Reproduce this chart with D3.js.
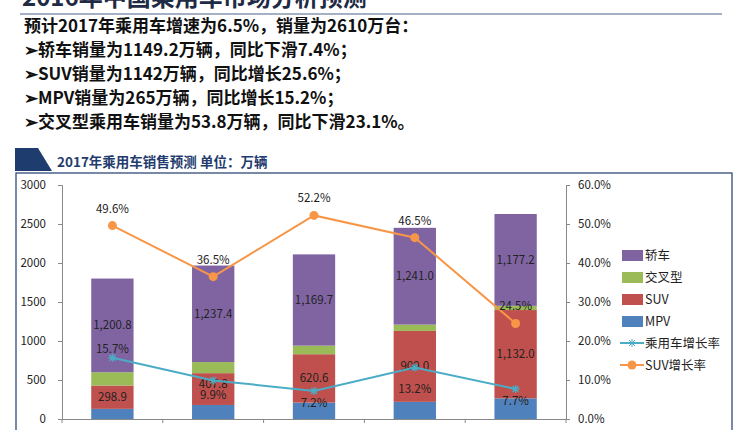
<!DOCTYPE html><html><head><meta charset="utf-8"><script src="https://cdn.jsdelivr.net/npm/d3@7"></script>
<style>body{margin:0;background:#fff}text{font-family:"Noto Sans CJK SC","Microsoft YaHei",sans-serif}</style></head><body><svg id="c" width="737" height="430"></svg>
<script>
const years=["2013","2014","2015","2016","2017E"];
const mpv=[130,180,210,220,265];
const suv=[298.9,407.8,620.6,909.0,1132.0];
const cross=[171,142,110,81,53.8];
const sedan=[1200.8,1237.4,1169.7,1241.0,1177.2];
const totalGrowth=[15.7,9.9,7.2,13.2,7.7];
const suvGrowth=[49.6,36.5,52.2,46.5,24.5];
const leftTicks=[0,500,1000,1500,2000,2500,3000];
const rightTicks=[0,10,20,30,40,50,60];
const headLines=["预计2017年乘用车增速为6.5%，销量为2610万台：","➢轿车销量为1149.2万辆，同比下滑7.4%；","➢SUV销量为1142万辆，同比增长25.6%；","➢MPV销量为265万辆，同比增长15.2%；","➢交叉型乘用车销量为53.8万辆，同比下滑23.1%。"];
const svg=d3.select("#c");
svg.append("text").attr("x",22).attr("y",6).attr("font-size",24).attr("font-weight","bold").attr("fill","#1f2a44").text("2016年中国乘用车市场分析预测");
svg.append("line").attr("x1",20).attr("x2",722).attr("y1",14).attr("y2",14).attr("stroke","#8796b0").attr("stroke-width",1.5);
headLines.forEach((t,i)=>svg.append("text").attr("x",24).attr("y",32+i*24).attr("font-size",17).attr("font-weight","bold").attr("fill","#111").text(t));
svg.append("path").attr("d","M15,148H40L55,171H15Z").attr("fill","#1f3c6e");
svg.append("path").attr("d","M38,148H46L60,171H52Z").attr("fill","#fff");
svg.append("text").attr("x",57).attr("y",167).attr("font-size",13.5).attr("font-weight","bold").attr("fill","#1f3c6e").text("2017年乘用车销售预测  单位：万辆");
svg.append("rect").attr("x",16).attr("y",173).attr("width",716).attr("height",270).attr("fill","none").attr("stroke","#1f3c6e").attr("stroke-width",1.2);
const x=d3.scaleBand().domain(years).range([62,566]).paddingInner(0.58).paddingOuter(0.29);
const y=d3.scaleLinear().domain([0,3000]).range([419,185]);
const y2=d3.scaleLinear().domain([0,60]).range([419,185]);
const la=svg.append("g").attr("transform","translate(62,0)").call(d3.axisLeft(y).tickValues(leftTicks).tickSize(4).tickPadding(12).tickFormat(d3.format("d")));
const ra=svg.append("g").attr("transform","translate(566,0)").call(d3.axisRight(y2).tickValues(rightTicks).tickSize(4).tickPadding(8).tickFormat(d=>d.toFixed(1)+"%"));
const ba=svg.append("g").attr("transform","translate(0,419)").call(d3.axisBottom(x).tickSize(0).tickFormat(""));
[la,ra,ba].forEach(g=>{g.selectAll("path,line").attr("stroke","#888");g.selectAll("text").attr("font-size",11.5).attr("fill","#222").attr("font-family","Liberation Sans, Arial");});
svg.append("g").attr("transform","translate(0,419)").selectAll("line").data(d3.range(6)).join("line").attr("x1",(d)=>62+d*100.8).attr("x2",(d)=>62+d*100.8).attr("y1",0).attr("y2",4).attr("stroke","#888");
const series=[{k:"MPV",v:mpv,c:"#4f81bd"},{k:"SUV",v:suv,c:"#c0504d"},{k:"交叉型",v:cross,c:"#9bbb59"},{k:"轿车",v:sedan,c:"#8064a2"}];
years.forEach((yr,i)=>{let base=0;series.forEach(s=>{const v=s.v[i];svg.append("rect").attr("x",x(yr)).attr("width",x.bandwidth()).attr("y",y(base+v)).attr("height",y(base)-y(base+v)).attr("fill",s.c);
if(s.k==="SUV"||s.k==="轿车")svg.append("text").attr("x",x(yr)+x.bandwidth()/2).attr("y",y(base+v/2)+4-(s.k==="SUV"&&i===1?5:0)).attr("text-anchor","middle").attr("font-size",11.5).attr("font-family","Liberation Sans, Arial").attr("fill","#222").text(d3.format(",.1f")(v));
base+=v;});});
const cx=d=>x(d)+x.bandwidth()/2;
const l1=d3.line().x((d,i)=>cx(years[i])).y(d=>y2(d));
svg.append("path").attr("d",l1(totalGrowth)).attr("fill","none").attr("stroke","#4bacc6").attr("stroke-width",2);
svg.append("path").attr("d",l1(suvGrowth)).attr("fill","none").attr("stroke","#f79646").attr("stroke-width",2);
const off=[-5,19,16,25,16];
totalGrowth.forEach((v,i)=>{const px=cx(years[i]),py=y2(v);
svg.append("path").attr("d",`M${px-4},${py}H${px+4}M${px},${py-4}V${py+4}M${px-3},${py-3}L${px+3},${py+3}M${px-3},${py+3}L${px+3},${py-3}`).attr("stroke","#4bacc6").attr("stroke-width",1.3);
svg.append("text").attr("x",px).attr("y",py+off[i]).attr("text-anchor","middle").attr("font-size",11.5).attr("font-family","Liberation Sans, Arial").attr("fill","#222").text(v.toFixed(1)+"%");});
suvGrowth.forEach((v,i)=>{const px=cx(years[i]),py=y2(v);
svg.append("circle").attr("cx",px).attr("cy",py).attr("r",4.5).attr("fill","#f79646");
svg.append("text").attr("x",px).attr("y",py-13).attr("text-anchor","middle").attr("font-size",11.5).attr("font-family","Liberation Sans, Arial").attr("fill","#222").text(v.toFixed(1)+"%");});
const leg=[{t:"轿车",c:"#8064a2"},{t:"交叉型",c:"#9bbb59"},{t:"SUV",c:"#c0504d"},{t:"MPV",c:"#4f81bd"}];
leg.forEach((d,i)=>{const yy=255+i*22;svg.append("rect").attr("x",622).attr("y",yy-5).attr("width",21).attr("height",11).attr("fill",d.c);
svg.append("text").attr("x",645).attr("y",yy+5).attr("font-size",12.5).attr("fill","#222").text(d.t);});
const yy1=343,yy2=365;
svg.append("line").attr("x1",620).attr("x2",644).attr("y1",yy1).attr("y2",yy1).attr("stroke","#4bacc6").attr("stroke-width",2);
svg.append("path").attr("d",`M628,${yy1}h8M632,${yy1-4}v8M629,${yy1-3}l6,6M629,${yy1+3}l6,-6`).attr("stroke","#4bacc6");
svg.append("text").attr("x",645).attr("y",yy1+5).attr("font-size",12.5).attr("fill","#222").text("乘用车增长率");
svg.append("line").attr("x1",620).attr("x2",644).attr("y1",yy2).attr("y2",yy2).attr("stroke","#f79646").attr("stroke-width",2);
svg.append("circle").attr("cx",632).attr("cy",yy2).attr("r",4.5).attr("fill","#f79646");
svg.append("text").attr("x",645).attr("y",yy2+5).attr("font-size",12.5).attr("fill","#222").text("SUV增长率");
</script></body></html>
